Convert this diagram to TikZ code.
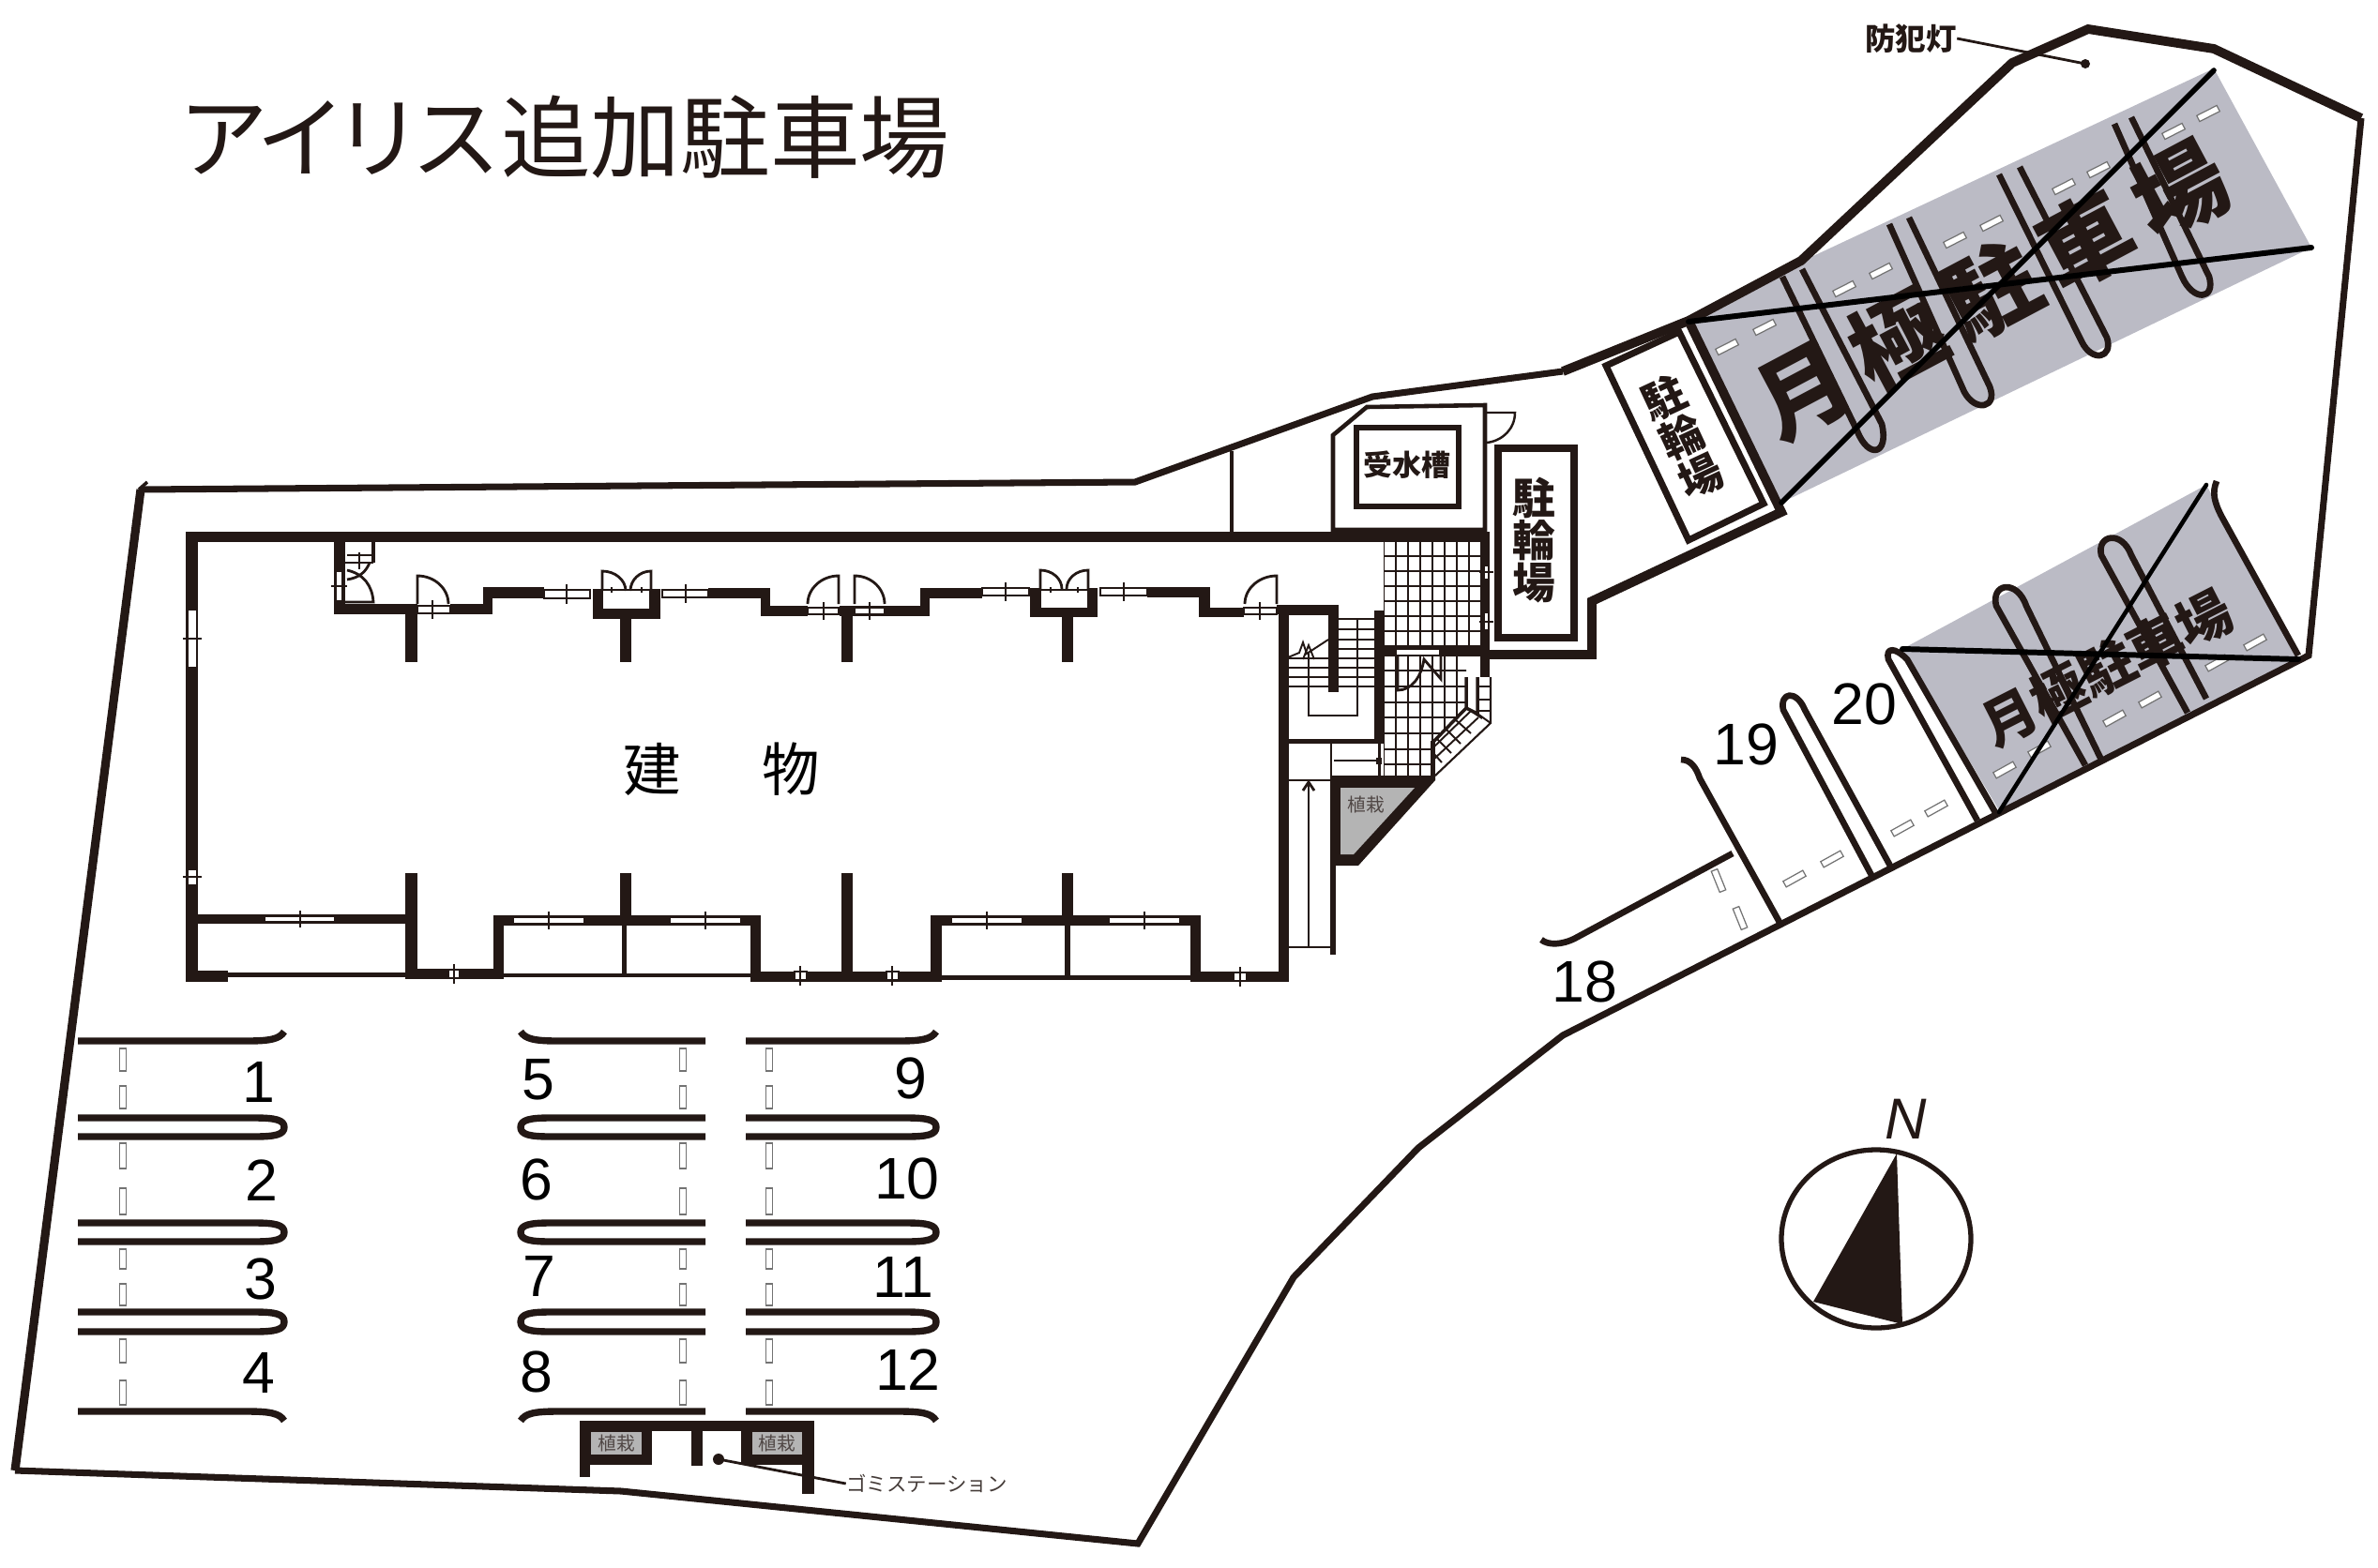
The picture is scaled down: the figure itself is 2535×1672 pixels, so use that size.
\documentclass[tikz,border=0pt]{standalone}
\usepackage{fontspec}
\setmainfont{Liberation Sans}
\newfontfamily\cjk{Noto Sans CJK JP}
\definecolor{ink}{HTML}{231815}
\definecolor{lotgray}{HTML}{BBBBC5}
\definecolor{plantgray}{HTML}{B4B4B4}
\tikzset{
 bound/.style={draw=ink,line width=2pt,line join=miter},
 boundthick/.style={draw=ink,line width=2.8pt,line join=miter},
 divider/.style={draw=ink,line width=1.9pt,line cap=butt,line join=round},
 stall/.style={draw=ink,line width=2.1pt,line join=round},
 thinl/.style={draw=ink,line width=0.6pt},
 tile/.style={draw=ink,line width=0.55pt},
 medl/.style={draw=ink,line width=1.3pt},
 numlabel/.style={font=\fontsize{17.8pt}{20pt}\selectfont,text=black,inner sep=0pt},
 crossl/.style={draw=black,line width=1.6pt,line cap=round},
 stubl/.style={draw=black!55,fill=white,line width=0.35pt},
 plantlabel/.style={font=\cjk\fontsize{5.6pt}{6pt}\selectfont,text=ink!80,inner sep=0pt},
 boldcjk/.style={font=\cjk\bfseries,text=ink,inner sep=0pt,align=center},
}
\newcommand\wallr[4]{\fill[ink] (#1,#2) rectangle (#3,#4);}
\newcommand\winh[5]{\filldraw[fill=white,draw=ink,line width=0.4pt] (#1,#3) rectangle (#2,#4);\draw[thinl,line width=0.8pt] (#5,#3-6) -- (#5,#4+6);}
\newcommand\winv[5]{\filldraw[fill=white,draw=ink,line width=0.4pt] (#1,#3) rectangle (#2,#4);\draw[thinl,line width=0.8pt] (#1-5,#5) -- (#2+5,#5);}
\newcommand\doorq[4]{\pgfmathsetmacro\dcx{#1+0.55*(#2-#1)}\pgfmathsetmacro\dcy{#3-0.55*(#3-#4)}\draw[thinl,line width=0.8pt] (#1,#3) -- (#1,#4) .. controls (\dcx,#4) and (#2,\dcy) .. (#2,#3);}
\newcommand\stub[3]{\filldraw[stubl,shift={(#1,#2)},rotate=#3] (-12,-3.5) rectangle (12,3.5);}
\newcommand\vstub[3]{\filldraw[stubl] (#1-3.5,#2) rectangle (#1+3.5,#3);}
% horizontal double stall line: flat x, round x, y1, y2, sign
\newcommand\dbl[5]{\pgfmathsetmacro\ymid{0.5*(#3+#4)}\draw[stall] (#1,#3) -- ({#2-(#5)*32},#3) .. controls ({#2-(#5)*10},#3) and (#2,{#3+2}) .. (#2,\ymid) .. controls (#2,{#4-2}) and ({#2-(#5)*10},#4) .. ({#2-(#5)*32},#4) -- (#1,#4);}
\begin{document}
\begin{tikzpicture}[x=0.01cm,y=-0.01cm]
\useasboundingbox (0,0) rectangle (2535,1672);
% lots
\fill[lotgray] (1800,341) -- (1918,280) -- (2360,73) -- (2464,264) -- (1899,536) -- cycle;
\fill[lotgray] (2028,692) -- (2352,517) -- (2450,703) -- (2131,864) -- cycle;
% boundary
\draw[bound] (150,522) -- (1210,514) -- (1463,423) -- (1666,396);
\draw[boundthick] (1666,396) -- (1800,342) -- (1920,278) -- (2145,67) -- (2226,31) -- (2360,52) -- (2517,126);
\draw[bound] (2517,126) -- (2461,699) -- (1666,1104) -- (1512,1224) -- (1379,1362) -- (1213,1646) -- (662,1590) -- (16,1568);
\draw[bound,line width=2.6pt] (16,1568) -- (150,522);
\draw[thinl,line width=1pt] (148,522) -- (157,514);
\draw[boundthick] (1800,342) -- (1899,546) -- (1697,641) -- (1697,698) -- (1587,698);
\draw[medl,line width=1.4pt] (1313,481) -- (1313,570);
% building outer
\wallr{198}{567}{1588}{578}
\wallr{198}{567}{211}{1047}
\wallr{198}{1035}{243}{1047}
\wallr{243}{1037}{433}{1042}
% north side
\wallr{356}{578}{368}{655}
\wallr{396}{578}{400}{600}
\draw[thinl] (368,600) -- (398,600);
\wallr{356}{644}{445}{655}
\wallr{432}{644}{445}{706}
\wallr{480}{644}{525}{655}
\wallr{515}{626}{525}{655}
\wallr{515}{626}{580}{638}
\wallr{632}{628}{643}{660}
\wallr{632}{649}{704}{660}
\wallr{692}{628}{704}{660}
\wallr{661}{650}{673}{706}
\wallr{755}{627}{821}{638}
\wallr{811}{627}{821}{657}
\wallr{811}{646}{861}{657}
\wallr{895}{646}{943}{657}
\wallr{897}{646}{909}{706}
\wallr{943}{646}{991}{657}
\wallr{981}{627}{991}{657}
\wallr{981}{627}{1047}{638}
\wallr{1098}{627}{1110}{658}
\wallr{1098}{648}{1170}{658}
\wallr{1159}{627}{1170}{658}
\wallr{1132}{650}{1144}{706}
\wallr{1223}{626}{1290}{637}
\wallr{1278}{626}{1290}{658}
\wallr{1278}{648}{1326}{658}
\wallr{1363}{645}{1374}{1047}
% north windows and doors
\winv{358}{365}{609}{641}{625}
\draw[thinl] (370,592) -- (396,592); \draw[thinl,line width=0.8pt] (383,589) -- (383,607);
\draw[thinl,line width=0.8pt] (368,642) -- (398,642) .. controls (397,625) and (388,612) .. (370,608);
\draw[thinl,line width=0.8pt] (370,618) .. controls (383,616) and (390,610) .. (394,600);
\winh{445}{480}{646}{654}{461}
\doorq{445}{478}{644}{614}
\winh{580}{629}{629}{638}{604}
\doorq{642}{667}{630}{609}
\doorq{694}{672}{630}{609}
\draw[thinl] (642,629) -- (694,629); \draw[thinl] (652,626) -- (652,632); \draw[thinl] (684,626) -- (684,632);
\winh{706}{755}{629}{637}{731}
\winh{861}{894}{648}{655}{878}
\doorq{894}{861}{644}{614}
\winh{911}{943}{648}{655}{927}
\doorq{911}{943}{644}{614}
\winh{1047}{1097}{627}{635}{1072}
\doorq{1109}{1132}{628}{608}
\doorq{1160}{1137}{628}{608}
\draw[thinl] (1109,629) -- (1160,629); \draw[thinl] (1120,626) -- (1120,632); \draw[thinl] (1149,626) -- (1149,632);
\winh{1173}{1223}{627}{635}{1198}
\winh{1326}{1361}{648}{655}{1343}
\doorq{1361}{1327}{644}{614}
\wallr{1361}{645}{1374}{655}
% west windows
\winv{200}{210}{650}{712}{681}
\winv{200}{210}{927}{944}{935}
% south side
\wallr{211}{975}{433}{985}
\winh{282}{357}{977}{983}{320}
\wallr{432}{931}{445}{1044}
\wallr{433}{1033}{537}{1044}
\wallr{526}{976}{537}{1044}
\wallr{526}{976}{811}{987}
\wallr{661}{931}{673}{987}
\wallr{663}{987}{668}{1040}
\wallr{800}{976}{811}{1046}
\wallr{537}{1038}{800}{1042}
\wallr{800}{1036}{1004}{1047}
\wallr{897}{931}{909}{1040}
\wallr{992}{976}{1004}{1047}
\wallr{992}{976}{1280}{987}
\wallr{1132}{931}{1144}{987}
\wallr{1135}{987}{1141}{1042}
\wallr{1269}{976}{1280}{1047}
\wallr{1004}{1040}{1269}{1045}
\wallr{1269}{1036}{1374}{1047}
\winh{547}{623}{978}{985}{585}
\winh{714}{790}{978}{985}{752}
\winh{1014}{1090}{978}{985}{1052}
\winh{1182}{1258}{978}{985}{1220}
\winh{478}{490}{1034}{1043}{484}
\winh{847}{860}{1036}{1045}{853}
\winh{945}{958}{1036}{1045}{951}
\winh{1315}{1329}{1037}{1046}{1322}
% tank room
\draw[medl] (1421,464) -- (1457,434) -- (1583,432) -- (1583,565) -- (1421,565) -- cycle;
\draw[ink,line width=1.7pt] (1446,456) rectangle (1555,540);
\node[boldcjk,font=\cjk\bfseries\fontsize{8.8pt}{10pt}\selectfont] (tank) at (1500,496) {受水槽};
\draw[thinl,line width=0.7pt] (1585,440) -- (1615,440) .. controls (1615,457) and (1602,470) .. (1585,472);
% bike box upright
\draw[ink,line width=2.2pt] (1597,478) rectangle (1678,680);
\node[boldcjk,font=\cjk\bfseries\fontsize{13pt}{12.7pt}\selectfont] (bikeA) at (1635,576) {駐\\輪\\場};
% bike box rotated
\draw[ink,line width=2pt] (1712,390) -- (1790,354) -- (1880,537) -- (1800,576) -- cycle;
\node[boldcjk,font=\cjk\bfseries\fontsize{13pt}{13.2pt}\selectfont,rotate=25] (bikeB) at (1793,466) {駐\\輪\\場};
% tiles
\begin{scope}
\clip (1475,578) rectangle (1578,690);
\foreach \x in {1475,1488,...,1580} \draw[tile] (\x,578) -- (\x,690);
\foreach \y in {593,609,625,641,657,673,689} \draw[tile] (1475,\y) -- (1578,\y);
\end{scope}
\begin{scope}
\clip (1475,700) -- (1563,700) -- (1563,755) -- (1527,792) -- (1527,827) -- (1475,827) -- cycle;
\foreach \x in {1475,1488,...,1580} \draw[tile] (\x,700) -- (\x,827);
\foreach \y in {715,732,749,765,782,799,815} \draw[tile] (1475,\y) -- (1578,\y);
\end{scope}
\foreach \y in {732,746,758} \draw[tile] (1576,\y) -- (1589,\y);
\wallr{1578}{568}{1588}{722}
\winv{1582}{1587}{603}{618}{610}
\winv{1582}{1587}{653}{672}{663}
\wallr{1475}{690}{1587}{700}
\filldraw[fill=white,draw=ink,line width=0.3pt] (1488,692) rectangle (1535,699);
\draw[thinl,line width=0.8pt] (1490,700) -- (1490,736) .. controls (1505,736) and (1515,722) .. (1518,703) -- (1536,724) -- (1536,700);
% entry steps
\draw[thinl] (1589,722) -- (1589,771) -- (1530,827);
\draw[thinl,line width=1pt] (1563,722) -- (1563,755) -- (1527,792);
\draw[thinl,line width=1pt] (1575,722) -- (1575,761) -- (1563,755);
\draw[tile] (1575,761) -- (1589,771);
\draw[tile] (1551,767) -- (1568,782); \draw[tile] (1541,777) -- (1557,793); \draw[tile] (1531,787) -- (1547,803);\draw[tile] (1527,802) -- (1537,813);
\draw[tile] (1563,755) -- (1580,766);
\draw[tile] (1528,810) -- (1576,765); \draw[tile] (1527,798) -- (1568,758);
\wallr{1525}{790}{1530}{827}
% stair core
\wallr{1363}{645}{1427}{656}
\wallr{1416}{645}{1427}{738}
\wallr{1465}{651}{1475}{792}
\wallr{1373}{788}{1475}{793}
\foreach \y in {660,671,682,692,702,712,722,732} \draw[tile] (1427,\y) -- (1465,\y);
\foreach \y in {702,712,722,732} \draw[tile] (1373,\y) -- (1416,\y);
\draw[tile] (1447,660) -- (1447,763) -- (1395,763) -- (1395,695);
\draw[tile] (1373,701) -- (1385,696) -- (1389,685) -- (1393,697) -- (1416,682);
\draw[tile] (1389,703) -- (1395,688) -- (1401,703);
\draw[tile] (1373,832) -- (1419,832) -- (1419,793);
\draw[tile] (1422,811) -- (1470,811);
\wallr{1469}{793}{1472}{827}
\wallr{1467}{808}{1473}{815}
\draw[tile] (1373,1010) -- (1421,1010);
\draw[tile,line width=0.8pt] (1395,1010) -- (1395,834);
\draw[tile,line width=0.8pt] (1389,843) -- (1395,834) -- (1401,843);
\wallr{1418}{923}{1424}{1018}
% planter triangle
\fill[ink] (1418,827) -- (1530,827) -- (1530,832) -- (1448,923) -- (1418,923) -- cycle;
\fill[plantgray] (1429,840) -- (1508,840) -- (1443,911) -- (1429,911) -- cycle;
\node[plantlabel] (plantA) at (1456,858) {植栽};
% parking left block
\foreach \xf/\xr/\s/\st in {83/303/1/131, 752/555/-1/728, 795/998/1/820} {
 \foreach \ya/\yb in {1192/1212,1304/1324,1399/1420} \dbl{\xf}{\xr}{\ya}{\yb}{\s};
 \draw[stall] (\xf,1110) -- ({\xr-\s*40},1110) .. controls ({\xr-\s*15},1110) and ({\xr-\s*5},1108) .. (\xr,1100);
 \draw[stall] (\xf,1505) -- ({\xr-\s*40},1505) .. controls ({\xr-\s*15},1505) and ({\xr-\s*5},1507) .. (\xr,1515);
 \foreach \ya/\yb in {1118/1142,1158/1182,1219/1246,1267/1295,1332/1353,1369/1392,1428/1453,1472/1498} \vstub{\st}{\ya}{\yb};
}
% garbage station
\wallr{618}{1515}{868}{1526}
\wallr{618}{1515}{695}{1562}
\wallr{618}{1562}{629}{1575}
\wallr{737}{1526}{749}{1563}
\wallr{790}{1515}{868}{1562}
\wallr{855}{1562}{868}{1593}
\fill[plantgray] (630,1527) rectangle (684,1551);
\fill[plantgray] (802,1527) rectangle (855,1551);
\node[plantlabel] (plantB) at (657,1539) {植栽};
\node[plantlabel] (plantC) at (828,1539) {植栽};
\node[inner sep=0pt,font=\cjk\fontsize{6.1pt}{7pt}\selectfont,text=ink!85] (gomi) at (988,1582) {ゴミステーション};
\coordinate (gomidot) at (766,1556);
\fill[ink] (gomidot) circle (6);
\draw[thinl,line width=0.8pt] (gomidot) -- (gomi.west);
% lot upper dashes
\foreach \x/\y in {1841/370,1881/349,1966/308,2005/289,2084/256,2123/238,2200/199,2237/181,2317/140,2354/121} \stub{\x}{\y}{27};
% lot lower dashes
\foreach \x/\y in {2404/685,2363/707,2292/746,2254/766,2174/799,2137/821,2064/862,2028/883,1953/916,1913/937} \stub{\x}{\y}{29};
\stub{1832}{939}{-68} \stub{1855}{979}{-68}
% upper dividers
\draw[divider] (1900,295) -- (1980,460) .. controls (1992,490) and (2014,485) .. (2006,452) -- (1921,287);
\draw[divider] (2014,239) -- (2094,418) .. controls (2106,440) and (2130,435) .. (2121,412) -- (2035,232);
\draw[divider] (2131,186) -- (2219,364) .. controls (2230,387) and (2253,382) .. (2246,360) -- (2153,178);
\draw[divider] (2254,132) -- (2326,295) .. controls (2338,322) and (2362,320) .. (2355,295) -- (2272,125);
% lower dividers
\draw[divider] (2363,513) .. controls (2358,525) and (2360,535) .. (2369,552) -- (2450,699);
\draw[divider] (2332,760) -- (2240,592) .. controls (2235,570) and (2262,565) .. (2272,592) -- (2352,745);
\draw[divider] (2223,816) -- (2128,646) .. controls (2122,622) and (2150,617) .. (2160,646) -- (2240,810);
\draw[divider] (2108,875) -- (2013,703) .. controls (2010,690) and (2020,690) .. (2033,703) -- (2128,868);
\draw[divider] (1996,935) -- (1901,757) .. controls (1897,738) and (1915,735) .. (1924,757) -- (2016,925);
\draw[divider] (1792,810) .. controls (1802,810) and (1808,818) .. (1812,830) -- (1899,987);
\draw[divider] (1847,910) -- (1680,1000) .. controls (1665,1008) and (1650,1008) .. (1643,1002);
% lot text
\node[boldcjk,font=\cjk\bfseries\fontsize{28pt}{29pt}\selectfont,rotate=28] (lotA) at (2123,309) {月\hspace{4.3pt}極\hspace{4.3pt}駐\hspace{4.3pt}車\hspace{4.3pt}場};
\node[boldcjk,font=\cjk\bfseries\fontsize{16.5pt}{17pt}\selectfont,rotate=27] (lotB) at (2246,712) {月極駐車場};
% crosses
\draw[crossl,line width=1.7pt] (1800,343) -- (2464,264);
\draw[crossl] (1899,536) -- (2360,75);
\draw[crossl,line width=1.7pt] (2028,692) -- (2450,703);
\draw[crossl,line width=1.3pt] (2131,866) -- (2352,517);
% numbers
\foreach \n/\x/\y in {1/276/1154,2/279/1259,3/278/1364,4/276/1464,5/574/1151,6/572/1258,7/575/1361,8/572/1463,9/971/1150,10/967/1257,11/963/1362,12/968/1461,18/1689/1047,19/1861/794,20/1987/751}
  \node[numlabel] (num\n) at (\x,\y) {\n};
% titles
\node[inner sep=0pt,anchor=west,font=\cjk\fontsize{27.2pt}{30pt}\selectfont,text=ink] (title) at (190,146) {ア\hspace{-3.7pt}イ\hspace{-3.7pt}リ\hspace{-3.7pt}ス追加駐車場};
\node[inner sep=0pt,font=\cjk\fontsize{17.5pt}{20pt}\selectfont,text=black] (bldg) at (769,820) {建\hspace{24.5pt}物};
% light
\node[inner sep=0pt,font=\cjk\bfseries\fontsize{9.2pt}{10pt}\selectfont,text=ink] (lamp) at (2037,41) {防犯灯};
\coordinate (lampdot) at (2223,68);
\fill[ink] (lampdot) circle (5);
\draw[thinl,line width=0.8pt] (lamp.east) -- (lampdot);
% compass
\draw[ink,line width=1.5pt] (2000,1321) ellipse (101 and 95);
\fill[ink] (2022,1230) -- (1933,1388) -- (2028,1412) -- cycle;
\node[inner sep=0pt,font=\itshape\fontsize{17.5pt}{18pt}\selectfont,text=ink] (north) at (2032,1193) {N};
\end{tikzpicture}
\end{document}
